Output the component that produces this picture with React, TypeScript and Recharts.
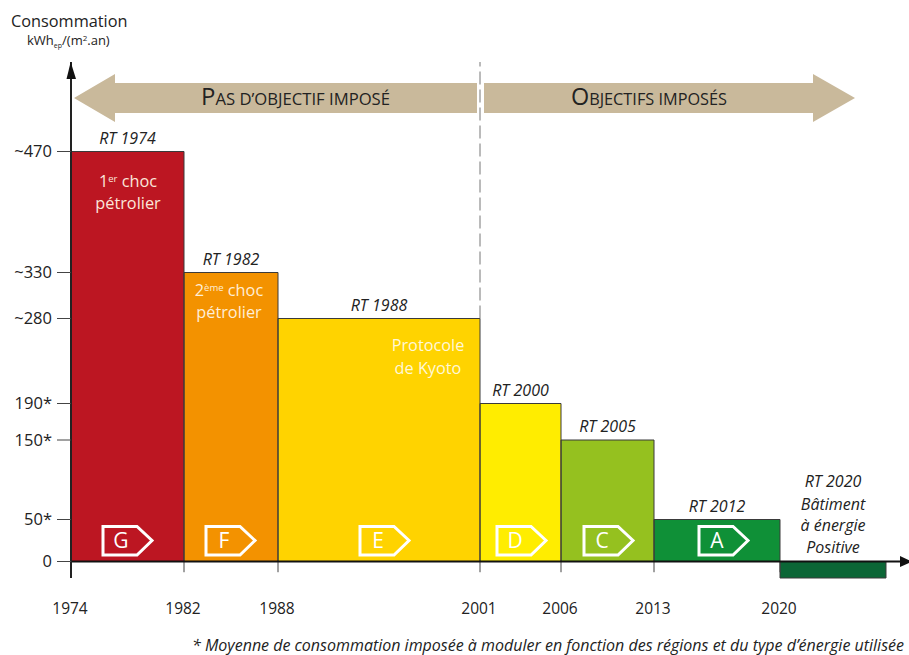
import {
  Area,
  ComposedChart,
  ReferenceArea,
  ReferenceLine,
  XAxis,
  YAxis,
} from "recharts";

// regulation periods
const periodNames = ["RT 1974", "RT 1982", "RT 1988", "RT 2000", "RT 2005", "RT 2012", ""];
const periodEdges = [1974, 1982, 1988, 2001, 2006, 2013, 2020, 2026];
const periodValues = [470, 330, 280, 190, 150, 50, -20];
const periodColors = ["#bc1622", "#f39200", "#ffd300", "#ffed00", "#95c11f", "#0f9037", "#0b6636"];

const yearTicks = [1974, 1982, 1988, 2001, 2006, 2013, 2020];
const valueTicks = [0, 50, 150, 190, 280, 330, 470];
const valueLabels = ["0", "50*", "150*", "190*", "~280", "~330", "~470"];

const tableData = periodEdges.map((year, edge) => {
  const row: Record<string, number> = { year };
  periodValues.forEach((value, i) => {
    if (edge === i || edge === i + 1) row[`p${i}`] = value;
  });
  return row;
});
tableData.push({ year: 2028 });

// the drawing is not to scale on either axis, so the axes bend at each tick
const makeBentScale = (values: number[], pixels: number[]) => {
  let domain = [values[0], values[values.length - 1]];
  let range = [0, 1];
  const first = pixels[0];
  const span = pixels[pixels.length - 1] - first;
  const scale: any = (v: number) => {
    let i = 0;
    while (i < values.length - 2 && v > values[i + 1]) i++;
    const t = (v - values[i]) / (values[i + 1] - values[i]);
    const p = pixels[i] + t * (pixels[i + 1] - pixels[i]);
    return range[0] + ((p - first) / span) * (range[1] - range[0]);
  };
  scale.domain = (d?: number[]) => {
    if (!d) return domain;
    domain = d;
    return scale;
  };
  scale.range = (r?: number[]) => {
    if (!r) return range;
    range = r;
    return scale;
  };
  scale.copy = () => makeBentScale(values, pixels).domain(domain).range(range);
  scale.ticks = () => values;
  return scale;
};

const xScale = makeBentScale(
  [1974, 1982, 1988, 2001, 2006, 2013, 2020, 2026, 2028],
  [71, 184, 278, 480, 561, 654, 780, 886, 909],
);
const yScale = makeBentScale(
  [-20, 0, 50, 150, 190, 280, 330, 470, 540],
  [578, 561.5, 519.5, 440, 403.5, 318.5, 272.5, 151.5, 62],
);

const FONT = "'Open Sans', sans-serif";
const INK = "#222";

const ClassTag = ({ x, letter }: { x: number; letter: string }) => (
  <g>
    <polygon
      points={`${x},526.5 ${x + 34},526.5 ${x + 49},540.5 ${x + 34},555 ${x},555`}
      fill="none"
      stroke="#fff"
      strokeWidth={3}
    />
    <text x={x + 18} y={548} textAnchor="middle" fontFamily={FONT} fontSize={21} fill="#fff">
      {letter}
    </text>
  </g>
);

const Banner = () => (
  <g>
    <polygon
      points="74,98 115,74 115,83 477,83 477,113 115,113 115,122"
      fill="#c9b99b"
    />
    <polygon
      points="484,83 813,83 813,74 855,98 813,122 813,113 484,113"
      fill="#c9b99b"
    />
    <text x={201} y={105} fontFamily={FONT} fill={INK} textLength={189} lengthAdjust="spacingAndGlyphs">
      <tspan fontSize={23}>P</tspan>
      <tspan fontSize={16}>AS D’OBJECTIF IMPOSÉ</tspan>
    </text>
    <text x={571} y={105} fontFamily={FONT} fill={INK} textLength={156} lengthAdjust="spacingAndGlyphs">
      <tspan fontSize={23}>O</tspan>
      <tspan fontSize={16}>BJECTIFS IMPOSÉS</tspan>
    </text>
  </g>
);

const Notes = () => (
  <g fontFamily={FONT}>
    <text x={11} y={27} fontSize={16.3} fill={INK}>Consommation</text>
    <text x={27} y={45} fontSize={13} fill={INK}>
      kWh<tspan fontSize={7} dy={3}>ep</tspan>
      <tspan dy={-3}>/(m</tspan>
      <tspan fontSize={8} dy={-4}>2</tspan>
      <tspan dy={4}>.an)</tspan>
    </text>

    <g fontSize={16.3} textAnchor="middle" fill="#fbe6da">
      <text x={128} y={187}>
        1<tspan fontSize={9.5} dy={-5}>er</tspan>
        <tspan dy={5}> choc</tspan>
      </text>
      <text x={128} y={209}>pétrolier</text>
    </g>
    <g fontSize={16.3} textAnchor="middle" fill="#ffeed6">
      <text x={229} y={296}>
        2<tspan fontSize={9.5} dy={-5}>ème</tspan>
        <tspan dy={5}> choc</tspan>
      </text>
      <text x={229} y={318}>pétrolier</text>
    </g>
    <g fontSize={16.3} textAnchor="middle" fill="#fff8d8">
      <text x={428} y={351}>Protocole</text>
      <text x={428} y={374}>de Kyoto</text>
    </g>

    <g fontSize={16} fontStyle="italic" textAnchor="middle" fill={INK}>
      <text x={833} y={487}>RT 2020</text>
      <text x={833} y={510}>Bâtiment</text>
      <text x={833} y={531}>à énergie</text>
      <text x={833} y={553}>Positive</text>
    </g>

    <text x={192} y={650.5} fontSize={16} fontStyle="italic" fill={INK}>
      * Moyenne de consommation imposée à moduler en fonction des régions et du type d’énergie utilisée
    </text>
  </g>
);

const App = () => {
  return (
    <div style={{ position: "absolute", left: 0, top: 0, width: 909, height: 655 }}>
      <ComposedChart
        width={909}
        height={655}
        data={tableData}
        margin={{ top: 62, right: 0, bottom: 0, left: 0 }}
      >
        <XAxis
          dataKey="year"
          type="number"
          domain={[1974, 2028]}
          scale={xScale}
          ticks={yearTicks}
          interval={0}
          height={77}
          axisLine={false}
          tickLine={false}
          tick={{ fontFamily: FONT, fontSize: 15.5, fill: INK, dy: 17, dx: -1 }}
        />
        <YAxis
          type="number"
          domain={[-20, 540]}
          scale={yScale}
          ticks={valueTicks}
          interval={0}
          width={71}
          tickSize={14}
          tickMargin={5}
          stroke={INK}
          axisLine={{ stroke: INK, strokeWidth: 2 }}
          tickLine={{ stroke: "#444", strokeWidth: 1 }}
          tick={{ fontFamily: FONT, fontSize: 16.5, fill: INK }}
          tickFormatter={(v: number) => valueLabels[valueTicks.indexOf(v)]}
        />

        {periodValues.map((_, i) => (
          <Area
            key={i}
            type="linear"
            dataKey={`p${i}`}
            stroke="none"
            fill={periodColors[i]}
            fillOpacity={1}
            dot={false}
            activeDot={false}
            isAnimationActive={false}
          />
        ))}

        {periodValues.map((value, i) => (
          <ReferenceArea
            key={i}
            x1={periodEdges[i]}
            x2={periodEdges[i + 1]}
            y1={0}
            y2={value}
            fill="none"
            stroke="#3a3a3a"
            strokeWidth={1}
            isFront
            label={
              periodNames[i]
                ? {
                    value: periodNames[i],
                    position: "top",
                    offset: 8,
                    fontFamily: FONT,
                    fontSize: 16,
                    fontStyle: "italic",
                    fill: INK,
                  }
                : undefined
            }
          />
        ))}

        <ReferenceLine
          segment={[{ x: 2001, y: 280 }, { x: 2001, y: 540 }]}
          stroke="#777"
          strokeWidth={1}
          strokeDasharray="13 5"
        />
        {yearTicks.slice(1).map((year) => (
          <ReferenceLine
            key={year}
            segment={[{ x: year, y: 0 }, { x: year, y: -13 }]}
            stroke="#444"
            strokeWidth={1}
            isFront
          />
        ))}
        <ReferenceLine y={0} stroke="#111" strokeWidth={2} isFront />
      </ComposedChart>

      {/* annotations sit on top of the series, so they get their own layer */}
      <svg
        width={909}
        height={655}
        style={{ position: "absolute", left: 0, top: 0, pointerEvents: "none" }}
      >
        <Banner />
        <polygon points="70.7,62 76,79 66.5,79" fill="#111" />
        <polygon points="900,556 912,561.5 900,567" fill="#111" />
        <ClassTag x={103} letter="G" />
        <ClassTag x={206} letter="F" />
        <ClassTag x={360} letter="E" />
        <ClassTag x={497} letter="D" />
        <ClassTag x={584} letter="C" />
        <ClassTag x={699} letter="A" />
        <Notes />
      </svg>
    </div>
  );
};

export default App;
